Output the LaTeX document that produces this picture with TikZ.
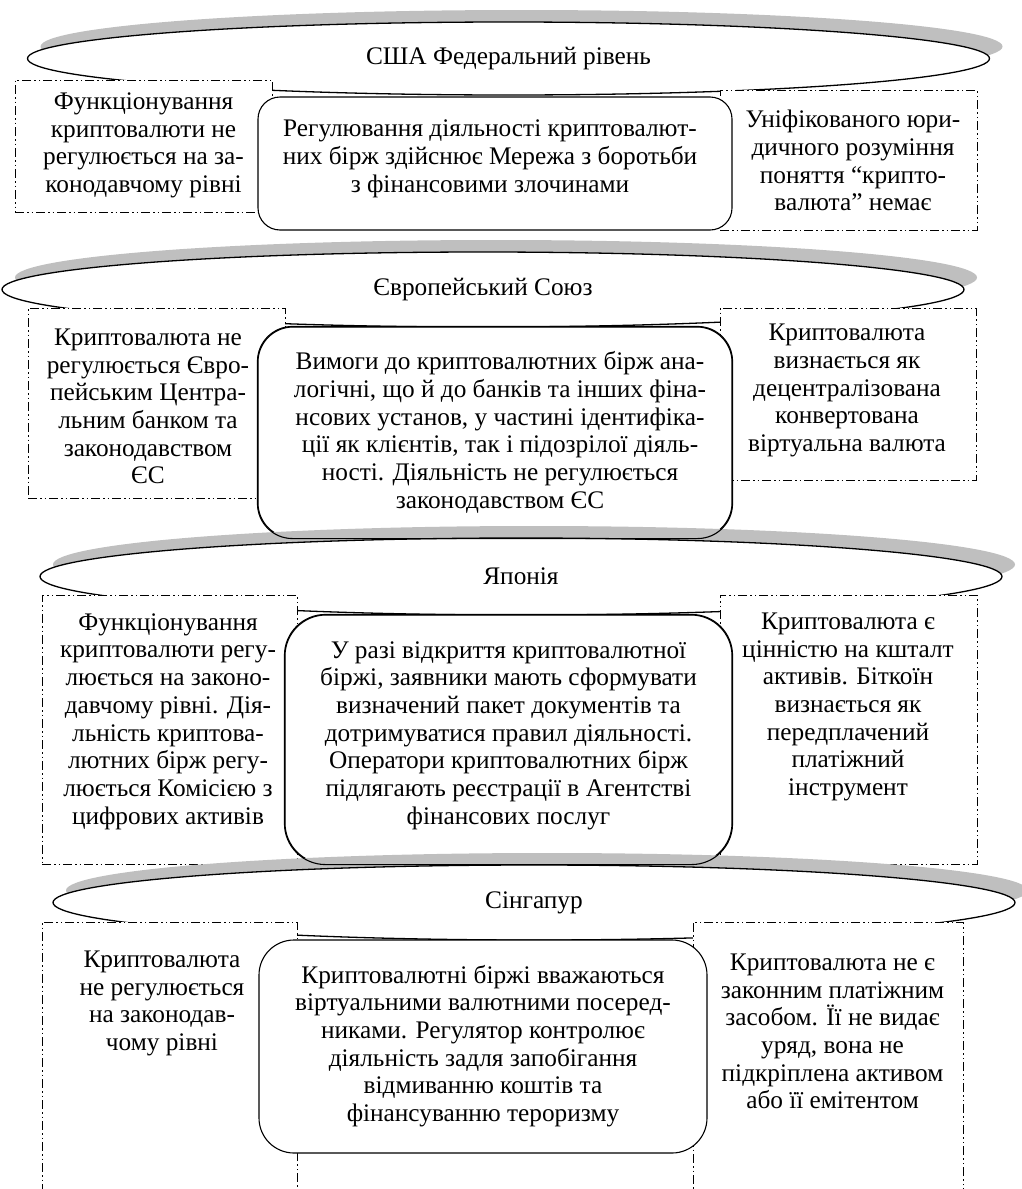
\documentclass[tikz,border=0pt]{standalone}
\usepackage{fontspec}
\setmainfont{Liberation Serif}
\usetikzlibrary{shapes.geometric,shadows}
\newcommand\mysz{\fontsize{25.3pt}{27.7pt}\selectfont}
\begin{document}
\begin{tikzpicture}[x=1pt,y=-1pt,
  banner/.style={ellipse, draw=black, line width=1.3pt, fill=white, inner sep=0pt,
    minimum width=962pt, font=\mysz,
    general shadow={fill=black!25, shadow xshift=13pt, shadow yshift=12pt}},
  dbox/.style={rectangle, draw=black, line width=0.9pt, fill=white, inner sep=0pt,
    dash pattern=on 9pt off 3pt on 1.5pt off 3pt on 1.5pt off 3pt},
  cbox/.style={rectangle, draw=black, line width=1.1pt, fill=white, inner sep=0pt},
  txt/.style={align=center, inner sep=0pt, font=\mysz},
]
\useasboundingbox (0,0) rectangle (1022,1189);
\clip (0,0) rectangle (1022,1189);

% ---------- Section 1: USA
\node[banner, minimum height=73pt] (b1) at (508.5,58.5) {США Федеральний рівень};
\node[dbox, minimum width=257pt, minimum height=132pt] (l1) at (143.5,146) {};
\node[dbox, minimum width=257pt, minimum height=140pt] (r1) at (848.5,160) {};
\node[cbox, rounded corners=22pt, minimum width=474pt, minimum height=133pt] (c1) at (495,163.5) {};
\node[txt] (l1t) at (143.5,145.5) {Функціонування\\ криптовалюти не\\ регулюється на за-\\ конодавчому рівні};
\node[txt] (r1t) at (853,160.5) {Уніфікованого юри-\\ дичного розуміння\\ поняття “крипто-\\ валюта” немає};
\node[txt] (c1t) at (490,159) {Регулювання діяльності криптовалют-\\ них бірж здійснює Мережа з боротьби\\ з фінансовими злочинами};

% ---------- Section 2: EU
\node[banner, minimum height=75pt] (b2) at (483,289.5) {Європейський Союз};
\node[dbox, minimum width=257pt, minimum height=190pt] (l2) at (156.5,403) {};
\node[dbox, minimum width=256pt, minimum height=172pt] (r2) at (848,394) {};
\node[cbox, rounded corners=35pt, minimum width=474pt, minimum height=211pt] (c2) at (495,432.5) {};
\node[txt] (l2t) at (148,406.5) {Криптовалюта не\\ регулюється Євро-\\ пейським Центра-\\ льним банком та\\ законодавством\\ ЄС};
\node[txt] (r2t) at (847,390.5) {Криптовалюта\\ визнається як\\ децентралізована\\ конвертована\\ віртуальна валюта};
\node[txt] (c2t) at (500,432.5) {Вимоги до криптовалютних бірж ана-\\ логічні, що й до банків та інших фіна-\\ нсових установ, у частині ідентифіка-\\ ції як клієнтів, так і підозрілої діяль-\\ ності. Діяльність не регулюється\\ законодавством ЄС};

% ---------- Section 3: Japan
\node[banner, minimum height=77pt] (b3) at (521,576.5) {Японія};
\node[dbox, minimum width=255pt, minimum height=269pt] (l3) at (169.5,729.5) {};
\node[dbox, minimum width=257pt, minimum height=269pt] (r3) at (848.5,729.5) {};
\node[cbox, rounded corners=41pt, minimum width=447pt, minimum height=249pt] (c3) at (508.5,739.5) {};
\node[txt] (l3t) at (168,721.5) {Функціонування\\ криптовалюти регу-\\ люється на законо-\\ давчому рівні. Дія-\\ льність криптова-\\ лютних бірж регу-\\ люється Комісією з\\ цифрових активів};
\node[txt] (r3t) at (848,707) {Криптовалюта є\\ цінністю на кшталт\\ активів. Біткоїн\\ визнається як\\ передплачений\\ платіжний\\ інструмент};
\node[txt] (c3t) at (508.5,735.5) {У разі відкриття криптовалютної\\ біржі, заявники мають сформувати\\ визначений пакет документів та\\ дотримуватися правил діяльності.\\ Оператори криптовалютних бірж\\ підлягають реєстрації в Агентстві\\ фінансових послуг};

% ---------- Section 4: Singapore
\node[banner, minimum height=75pt] (b4) at (534,902.5) {Сінгапур};
\node[dbox, minimum width=255pt, minimum height=278pt] (l4) at (169.5,1061) {};
\node[dbox, minimum width=270pt, minimum height=278pt] (r4) at (828,1061) {};
\node[cbox, rounded corners=35pt, minimum width=448pt, minimum height=213pt] (c4) at (483,1046.5) {};
\node[txt] (l4t) at (162,1003.5) {Криптовалюта\\ не регулюється\\ на законодав-\\ чому рівні};
\node[txt] (r4t) at (832.5,1031.5) {Криптовалюта не є\\ законним платіжним\\ засобом. Її не видає\\ уряд, вона не\\ підкріплена активом\\ або її емітентом};
\node[txt] (c4t) at (483,1046) {Криптовалютні біржі вважаються\\ віртуальними валютними посеред-\\ никами. Регулятор контролює\\ діяльність задля запобігання\\ відмиванню коштів та\\ фінансуванню тероризму};

% re-stroke rounded boxes over the following banner shadows
\draw[line width=1.1pt, rounded corners=35pt] (c2.south west) rectangle (c2.north east);
\draw[line width=1.1pt, rounded corners=41pt] (c3.south west) rectangle (c3.north east);
\end{tikzpicture}
\end{document}
